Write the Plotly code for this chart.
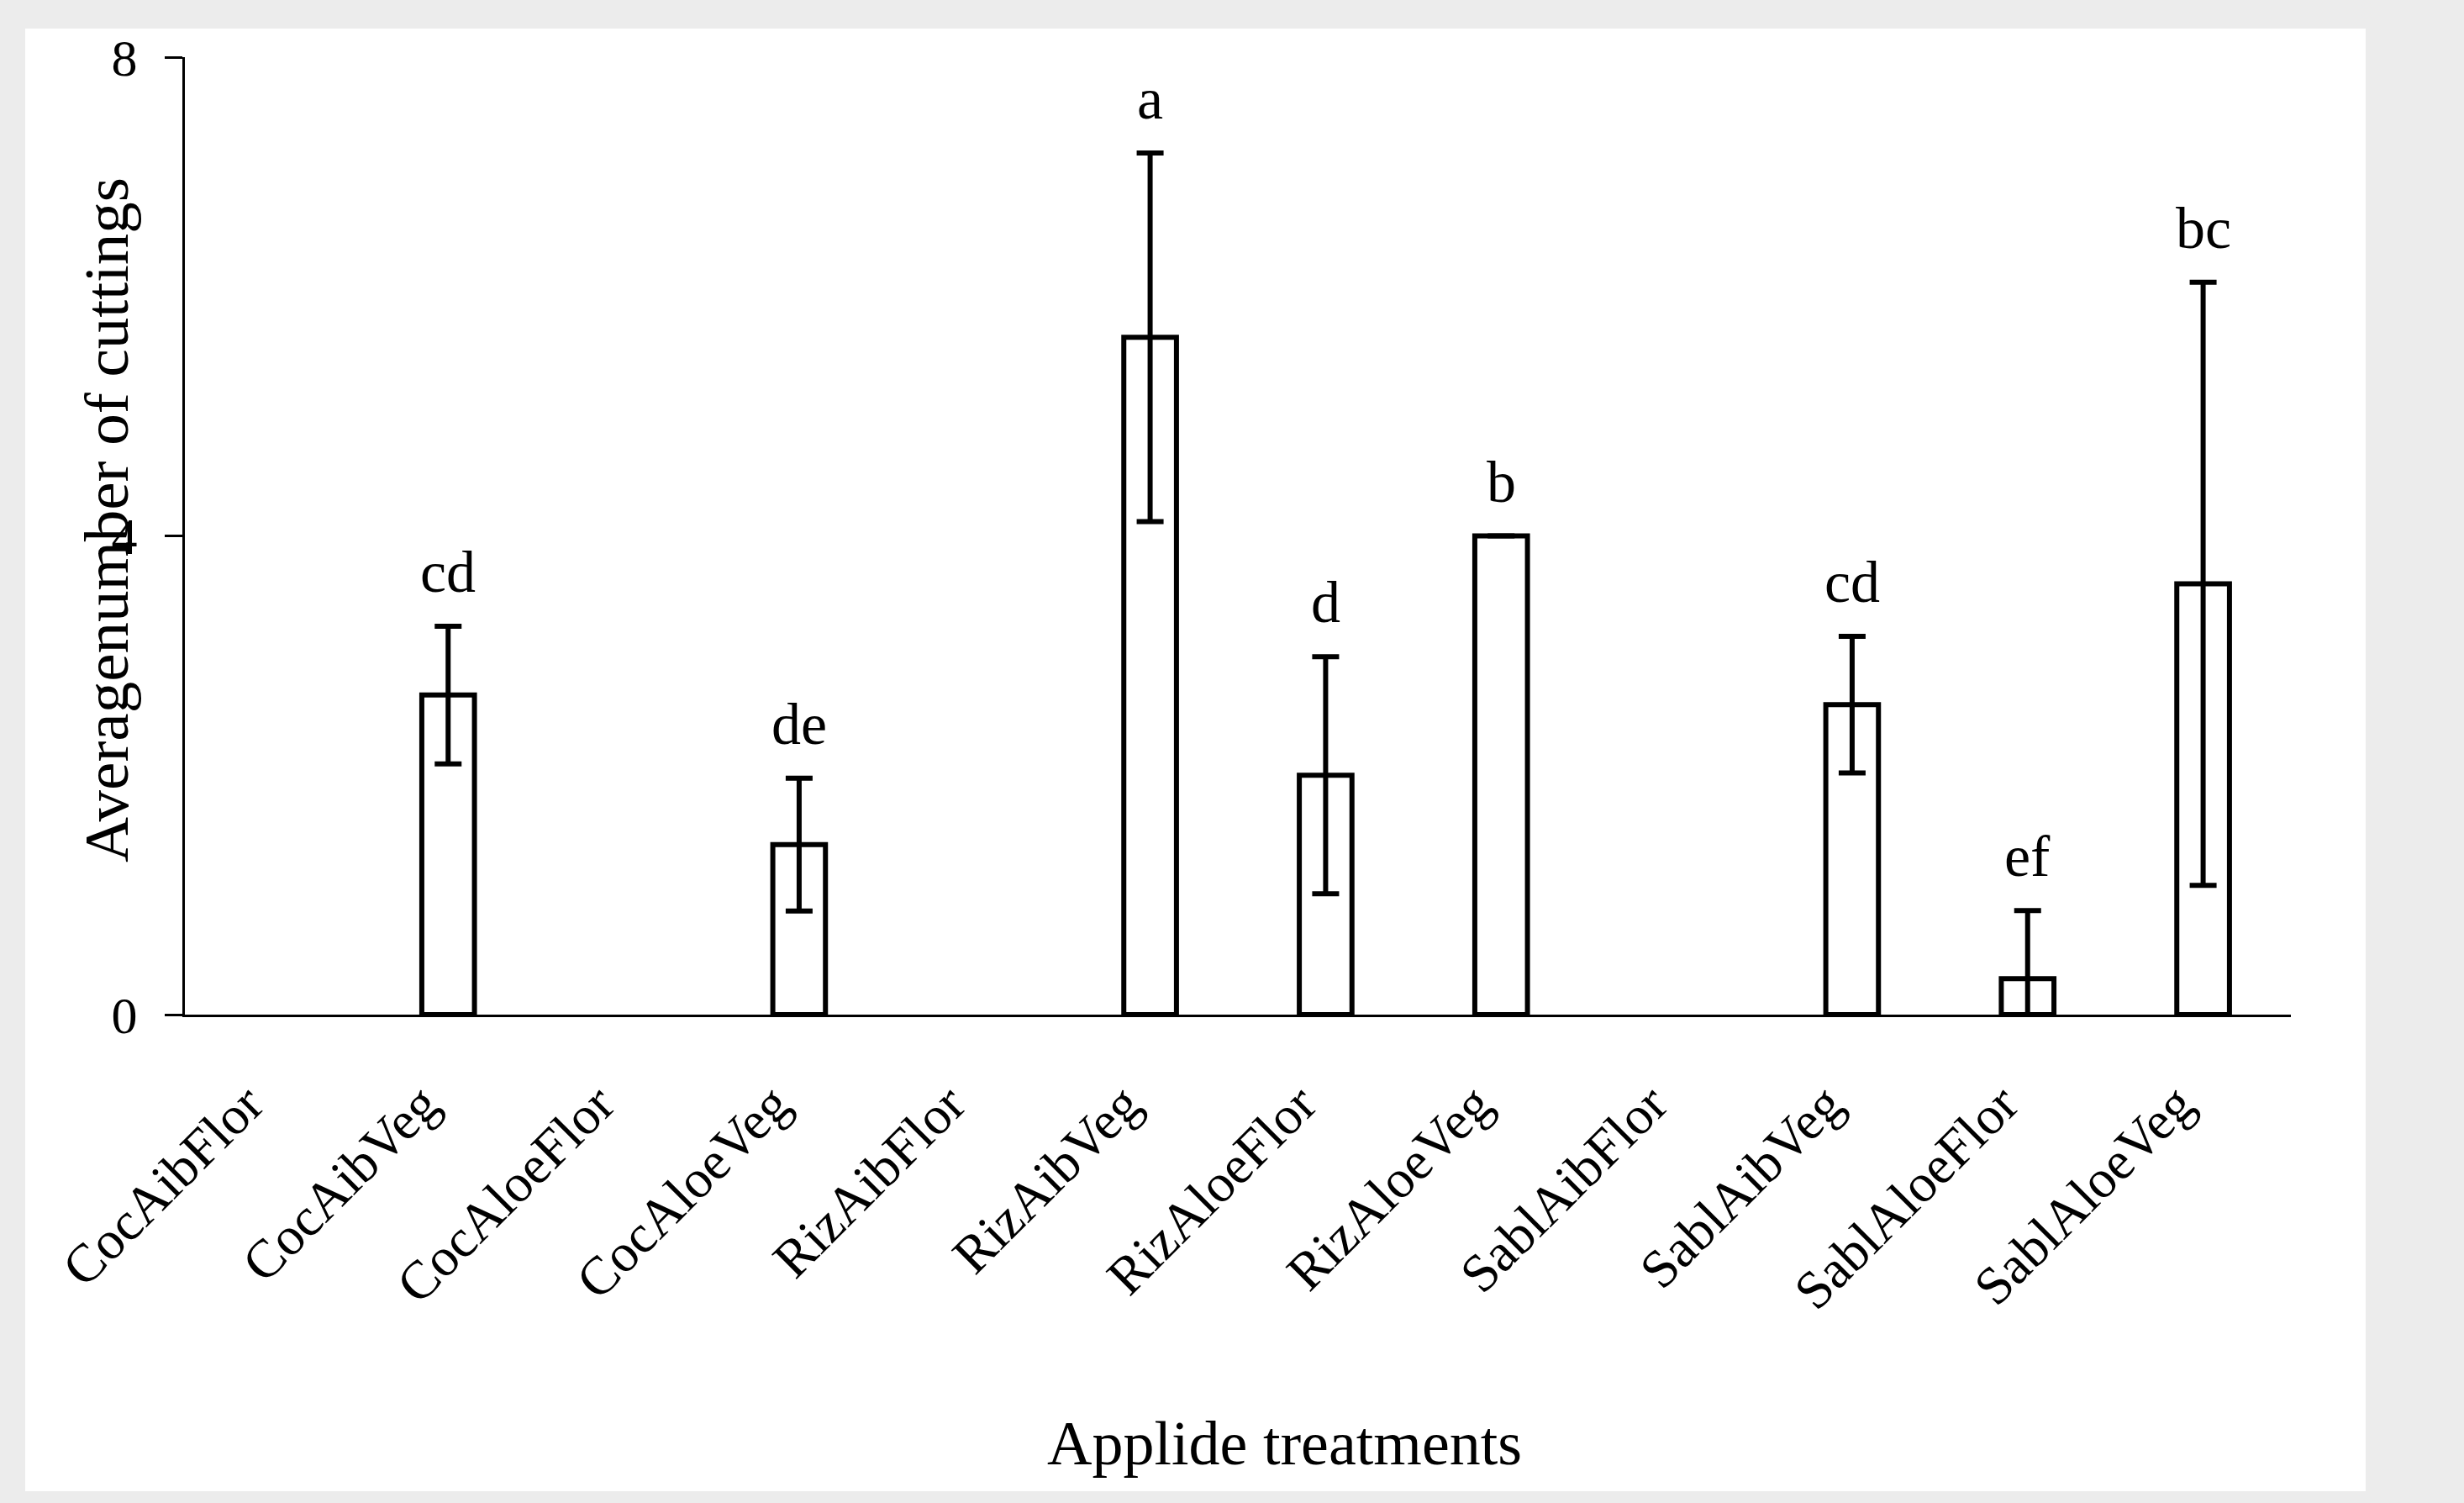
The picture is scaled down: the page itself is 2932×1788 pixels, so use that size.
import plotly.graph_objects as go

# ---- data ----
treatments = ["CocAibFlor", "CocAibVeg", "CocAloeFlor", "CocAloeVeg",
              "RizAibFlor", "RizAibVeg", "RizAloeFlor", "RizAloeVeg",
              "SablAibFlor", "SablAibVeg", "SablAloeFlor", "SablAloeVeg"]
mean_cuttings = [0, 2.67, 0, 1.42, 0, 5.66, 2.0, 4.0, 0, 2.59, 0.30, 3.60]
err_plus = [None, 0.575, None, 0.555, None, 1.54, 0.99, None, None, 0.57, 0.57, 2.52]
err_minus = [None, 0.575, None, 0.555, None, 1.54, 0.99, None, None, 0.57, 0.30, 2.52]
letters = ["", "cd", "", "de", "", "a", "d", "b", "", "cd", "ef", "bc"]
y_ticks = [0, 4, 8]

FONT = "Liberation Serif, Times New Roman, serif"

W, H = 2932, 1788
L, R, T, B = 220, 206, 68, 581

# zero means: no bar is drawn
bar_y = [v if v > 0 else None for v in mean_cuttings]

fig = go.Figure()
fig.add_trace(go.Bar(
    x=treatments, y=bar_y, width=0.30,
    marker=dict(color="white", line=dict(color="black", width=6)),
    error_y=dict(type="data", symmetric=False, array=err_plus, arrayminus=err_minus,
                 color="black", thickness=6, width=16, visible=True),
    showlegend=False,
))

annotations = []
for cat, v, e, lab in zip(treatments, mean_cuttings, err_plus, letters):
    if not lab:
        continue
    top = v + (e or 0)
    annotations.append(dict(x=cat, y=top, xref="x", yref="y", text=lab, showarrow=False,
                            yanchor="bottom", yshift=24,
                            font=dict(family=FONT, size=70, color="black")))

pw = W - L - R
ph = H - T - B
def px_x(p):
    return (p - L) / pw
def px_y(p):
    return (H - B - p) / ph

annotations.append(dict(x=px_x(126), y=px_y(619), xref="paper", yref="paper",
                        text="Averagenumber of cuttings", textangle=-90, showarrow=False,
                        xanchor="center", yanchor="middle",
                        font=dict(family=FONT, size=75, color="black")))
annotations.append(dict(x=px_x(1528), y=px_y(1717), xref="paper", yref="paper",
                        text="Applide treatments", showarrow=False,
                        xanchor="center", yanchor="middle",
                        font=dict(family=FONT, size=74, color="black")))

fig.update_layout(
    width=W, height=H,
    margin=dict(l=L, r=R, t=T, b=B, autoexpand=False),
    paper_bgcolor="#ececec",
    plot_bgcolor="white",
    font=dict(family=FONT, color="black"),
    annotations=annotations,
    shapes=[dict(type="rect", xref="paper", yref="paper", layer="below",
                 x0=px_x(30), x1=px_x(2815), y0=px_y(1774), y1=px_y(34),
                 fillcolor="white", line=dict(width=0))],
)
fig.update_xaxes(
    range=[-0.5, 11.5], showline=True, linecolor="black", linewidth=3,
    ticks="", tickangle=-45, showgrid=False, zeroline=False,
    tickfont=dict(family=FONT, size=64, color="black"),
    ticklabelstandoff=40, ticklabelshift=-30,
)
fig.update_yaxes(
    range=[0, 8], tickvals=y_ticks, ticktext=[str(t) for t in y_ticks],
    showline=True, linecolor="black", linewidth=3,
    ticks="outside", ticklen=21, tickwidth=3, tickcolor="black",
    showgrid=False, zeroline=False,
    tickfont=dict(family=FONT, size=62, color="black"), ticklabelstandoff=20,
)

fig.write_html("out.html", config={"displayModeBar": False},
               post_script="document.body.style.margin='0';document.body.style.background='#ececec';")
